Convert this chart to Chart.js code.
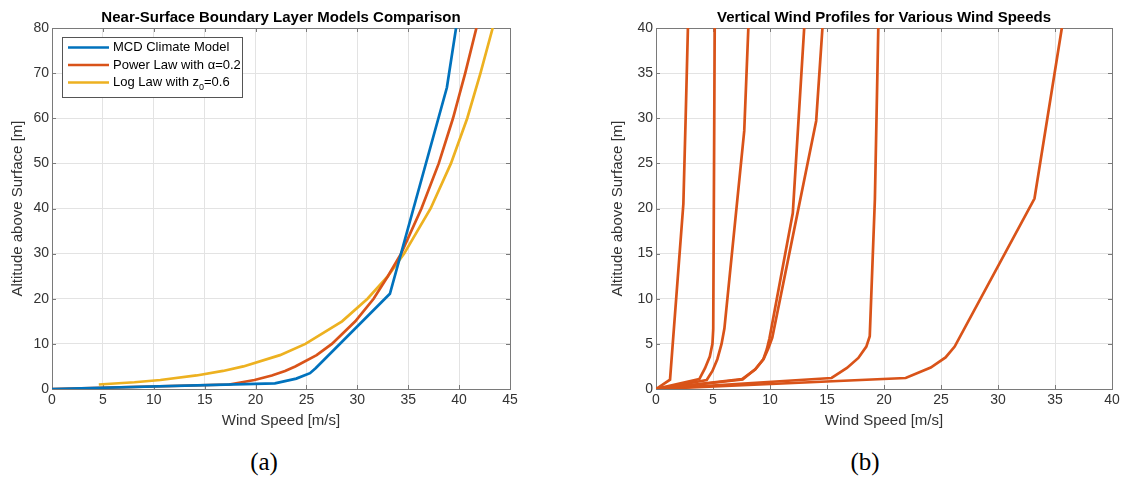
<!DOCTYPE html>
<html>
<head>
<meta charset="utf-8">
<title>Wind profiles</title>
<script src="https://cdn.jsdelivr.net/npm/chart.js@4.4.1/dist/chart.umd.min.js"></script>
<style>
  body { margin: 0; background: #fff; width: 1126px; height: 481px; position: relative; overflow: hidden;
         font-family: "Liberation Sans", Arial, sans-serif; }
  .plot { position: absolute; top: 0; height: 440px; }
  .ttl { position: absolute; top: 8px; font-weight: bold; font-size: 15px; color: #000;
         transform: translateX(-50%); white-space: nowrap; }
  .cap { position: absolute; top: 448px; font-family: "Liberation Serif", serif; font-size: 25px; color: #000;
         transform: translateX(-50%); }
</style>
</head>
<body>
<div class="plot" style="left:0;width:540px"><canvas id="chartA"></canvas></div>
<div class="plot" style="left:600px;width:526px"><canvas id="chartB"></canvas></div>
<div class="ttl" style="left:281px">Near-Surface Boundary Layer Models Comparison</div>
<div class="ttl" style="left:884px">Vertical Wind Profiles for Various Wind Speeds</div>
<div class="cap" style="left:264px">(a)</div>
<div class="cap" style="left:865px">(b)</div>

<script>
/* ---------- (a) model comparison: wind speed [m/s] vs altitude [m] ---------- */
const MCD_U = [0, 21.9, 24.0, 25.35, 25.9, 33.2, 38.8, 39.7];
const MCD_Z = [0, 1.25, 2.3, 3.5, 4.6, 21.1, 66.8, 80];

const POW_U = [0, 17.4, 19.9, 21.6, 22.9, 23.9, 26.0, 27.5, 29.8, 31.6, 33.0, 34.3, 36.3, 38.0, 39.4, 40.6, 41.7];
const POW_Z = [0, 1, 2, 3, 4, 5, 7.5, 10, 15, 20, 25, 30, 40, 50, 60, 70, 80];

const LOG_U = [4.6, 8.1, 10.65, 14.2, 16.8, 18.8, 22.4, 24.9, 28.5, 31.0, 33.0, 34.6, 37.2, 39.2, 40.8, 42.1, 43.3];
const LOG_Z = [1, 1.5, 2, 3, 4, 5, 7.5, 10, 15, 20, 25, 30, 40, 50, 60, 70, 80];

const SERIES_A = ["MCD Climate Model", "Power Law with α=0.2", "Log Law with z₀=0.6"];

/* ---------- (b) MCD profiles at several wind speeds ---------- */
const PROFILE_U = [
  [0, 1.23, 2.4, 2.6, 2.8],
  [0, 3.8, 4.3, 4.72, 4.95, 5.02, 5.15],
  [0, 4.45, 4.95, 5.38, 5.75, 6.0, 7.74, 8.1],
  [0, 7.55, 8.7, 9.4, 9.72, 9.95, 12.0, 13.0],
  [0, 7.6, 8.72, 9.45, 9.85, 10.2, 14.05, 14.6],
  [0, 15.4, 16.75, 17.75, 18.45, 18.75, 19.2, 19.5],
  [0, 21.9, 24.1, 25.4, 26.2, 33.2, 35.6],
];
const PROFILE_Z = [
  [0, 1.03, 20.5, 30, 40],
  [0, 1.1, 2.3, 3.6, 5.0, 6.6, 40],
  [0, 1.0, 2.0, 3.3, 5.0, 6.7, 28.6, 40],
  [0, 1.1, 2.15, 3.25, 4.4, 5.6, 19.5, 40],
  [0, 1.05, 2.2, 3.35, 4.5, 5.7, 29.7, 40],
  [0, 1.22, 2.33, 3.44, 4.7, 5.85, 21, 40],
  [0, 1.22, 2.37, 3.5, 4.7, 21.1, 40],
];

const BLUE = "#0072BD", ORANGE = "#D95319", YELLOW = "#EDB120";
const INK = "#333", GRID = "#e3e3e3", FRAME = "#7a7a7a";
const SANS = '"Liberation Sans", Arial, sans-serif';

const pts = (us, zs) => us.map((u, i) => ({ x: u, y: zs[i] }));

function series(label, data, color) {
  return { label, data, borderColor: color, backgroundColor: color,
           borderWidth: 2.7, pointRadius: 0, showLine: true, tension: 0 };
}

/* axes box with inward ticks on all four sides */
const frame = {
  id: "frame",
  beforeDatasetsDraw(chart) {
    const { ctx, chartArea: a, scales: { x, y } } = chart;
    ctx.save();
    ctx.strokeStyle = FRAME;
    ctx.lineWidth = 1;
    ctx.beginPath();
    x.ticks.forEach((t) => {
      const p = Math.round(x.getPixelForValue(t.value)) + 0.5;
      ctx.moveTo(p, a.bottom); ctx.lineTo(p, a.bottom - 4);
      ctx.moveTo(p, a.top); ctx.lineTo(p, a.top + 4);
    });
    y.ticks.forEach((t) => {
      const p = Math.round(y.getPixelForValue(t.value)) + 0.5;
      ctx.moveTo(a.left, p); ctx.lineTo(a.left + 4, p);
      ctx.moveTo(a.right, p); ctx.lineTo(a.right - 4, p);
    });
    ctx.stroke();
    ctx.strokeRect(Math.round(a.left) + 0.5, Math.round(a.top) + 0.5,
                   Math.round(a.right - a.left), Math.round(a.bottom - a.top));
    ctx.restore();
  },
};

/* boxed legend in the upper-left corner of the plot */
const boxLegend = {
  id: "boxLegend",
  afterDraw(chart) {
    const { ctx, chartArea: a } = chart;
    const x0 = a.left + 10, y0 = a.top + 9, w = 180, rowH = 17.5;
    ctx.save();
    ctx.fillStyle = "#fff";
    ctx.fillRect(x0, y0, w, 60);
    ctx.strokeStyle = "#555";
    ctx.lineWidth = 1;
    ctx.strokeRect(Math.round(x0) + 0.5, Math.round(y0) + 0.5, w, 60);
    chart.data.datasets.forEach((ds, i) => {
      const cy = y0 + 10.5 + i * rowH;
      ctx.strokeStyle = ds.borderColor;
      ctx.lineWidth = 2.7;
      ctx.beginPath(); ctx.moveTo(x0 + 6, cy); ctx.lineTo(x0 + 47, cy); ctx.stroke();
      ctx.fillStyle = "#000";
      ctx.textBaseline = "middle";
      let tx = x0 + 51;
      ds.label.split("₀").forEach((part, k) => {
        if (k > 0) {
          ctx.font = `9px ${SANS}`;
          ctx.fillText("0", tx, cy + 5);
          tx += ctx.measureText("0").width;
        }
        ctx.font = `13px ${SANS}`;
        ctx.fillText(part, tx, cy);
        tx += ctx.measureText(part).width;
      });
    });
    ctx.restore();
  },
};

function axes(xMax, yMax, yStep, yWidth) {
  const tick = { color: INK, font: { family: SANS, size: 14 } };
  const ttl = { color: INK, font: { family: SANS, size: 15 } };
  return {
    x: {
      type: "linear", min: 0, max: xMax,
      ticks: { ...tick, stepSize: 5, padding: 3, maxRotation: 0 },
      grid: { color: GRID, drawTicks: false },
      border: { display: false },
      title: { ...ttl, display: true, text: "Wind Speed [m/s]", padding: { top: 0, bottom: 10 } },
      afterFit: (s) => { s.height = 51; },
    },
    y: {
      type: "linear", min: 0, max: yMax,
      ticks: { ...tick, stepSize: yStep, padding: 3 },
      grid: { color: GRID, drawTicks: false },
      border: { display: false },
      title: { ...ttl, display: true, text: "Altitude above Surface [m]", padding: { top: 9, bottom: 0 } },
      afterFit: (s) => { s.width = yWidth; },
    },
  };
}

function baseOpts(xMax, yMax, yStep, yWidth, padRight) {
  return {
    responsive: true, maintainAspectRatio: false, animation: false,
    layout: { padding: { top: 28, right: padRight, bottom: 0, left: 0 } },
    plugins: { legend: { display: false }, title: { display: false }, tooltip: { enabled: false } },
    scales: axes(xMax, yMax, yStep, yWidth),
  };
}

new Chart(document.getElementById("chartA"), {
  type: "scatter",
  data: {
    datasets: [
      series(SERIES_A[0], pts(MCD_U, MCD_Z), BLUE),
      series(SERIES_A[1], pts(POW_U, POW_Z), ORANGE),
      series(SERIES_A[2], pts(LOG_U, LOG_Z), YELLOW),
    ],
  },
  options: baseOpts(45, 80, 10, 52, 30),
  plugins: [frame, boxLegend],
});

new Chart(document.getElementById("chartB"), {
  type: "scatter",
  data: {
    datasets: PROFILE_U.map((us, i) => series("profile " + (i + 1), pts(us, PROFILE_Z[i]), ORANGE)),
  },
  options: baseOpts(40, 40, 5, 56, 14),
  plugins: [frame],
});
</script>
</body>
</html>
